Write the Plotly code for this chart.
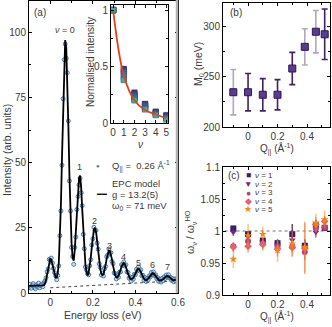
import plotly.graph_objects as go

# ---- panel (a): RIXS spectrum at Q = 0.26 1/A ----
energy = [
    -0.1, -0.095, -0.09, -0.085, -0.08, -0.075, -0.07, -0.065, -0.06, -0.055,
    -0.05, -0.045, -0.04, -0.035, -0.03, -0.025, -0.02, -0.015, -0.01, -0.005,
    0.0, 0.005, 0.01, 0.015, 0.02, 0.025, 0.03, 0.035, 0.04, 0.045,
    0.05, 0.055, 0.06, 0.065, 0.07, 0.075, 0.08, 0.085, 0.09, 0.095,
    0.1, 0.105, 0.11, 0.115, 0.12, 0.125, 0.13, 0.135, 0.14, 0.145,
    0.15, 0.155, 0.16, 0.165, 0.17, 0.175, 0.18, 0.185, 0.19, 0.195,
    0.2, 0.205, 0.21, 0.215, 0.22, 0.225, 0.23, 0.235, 0.24, 0.245,
    0.25, 0.255, 0.26, 0.265, 0.27, 0.275, 0.28, 0.285, 0.29, 0.295,
    0.3, 0.305, 0.31, 0.315, 0.32, 0.325, 0.33, 0.335, 0.34, 0.345,
    0.35, 0.355, 0.36, 0.365, 0.37, 0.375, 0.38, 0.385, 0.39, 0.395,
    0.4, 0.405, 0.41, 0.415, 0.42, 0.425, 0.43, 0.435, 0.44, 0.445,
    0.45, 0.455, 0.46, 0.465, 0.47, 0.475, 0.48, 0.485, 0.49, 0.495,
    0.5, 0.505, 0.51, 0.515, 0.52, 0.525, 0.53, 0.535, 0.54, 0.545,
    0.55, 0.555, 0.56, 0.565, 0.57, 0.575, 0.58, 0.585, 0.59, 0.595,
    0.6,
]
counts = [
    2.1, 3.4, 1.8, 2.9, 3.6, 2.2, 1.6, 3.1, 2.5, 3.8,
    2.0, 2.9, 3.3, 2.4, 3.9, 4.6, 5.8, 8.1, 9.2, 12.9,
    12.6, 13.4, 11.5, 9.4, 7.8, 6.6, 5.1, 6.7, 10.4, 22.0,
    31.5, 49.0, 74.5, 89.5, 95.5, 90.0, 84.5, 66.0, 43.0, 31.5,
    17.5, 14.0, 11.0, 17.5, 21.5, 32.0, 37.0, 41.5, 44.0, 38.5,
    33.5, 22.5, 17.0, 10.0, 8.9, 7.4, 7.0, 10.5, 12.8, 18.4,
    20.8, 25.2, 24.1, 24.0, 19.2, 16.8, 11.2, 9.8, 6.9, 7.6,
    6.5, 9.3, 10.2, 13.9, 14.6, 16.9, 15.4, 15.5, 12.1, 11.2,
    7.7, 7.4, 5.4, 6.6, 6.0, 8.0, 8.1, 10.9, 10.5, 11.9,
    10.4, 10.8, 8.1, 7.9, 5.7, 6.2, 4.6, 5.9, 5.3, 7.2,
    7.0, 9.1, 8.5, 10.0, 8.4, 8.9, 6.6, 6.8, 4.9, 5.9,
    4.4, 5.6, 5.0, 6.6, 6.2, 7.9, 7.0, 8.1, 6.7, 7.0,
    5.5, 5.9, 4.4, 5.2, 4.2, 5.6, 4.7, 6.2, 5.6, 6.9,
    6.1, 7.0, 5.7, 6.0, 4.8, 5.5, 4.3, 5.4, 4.6, 5.6,
    5.2,
]
epc_fit = [
    2.7, 2.7, 2.7, 2.7, 2.7, 2.7, 2.7, 2.7, 2.7, 2.7,
    2.7, 2.7, 2.8, 2.9, 3.0, 3.6, 5.0, 7.2, 9.8, 12.2,
    13.3, 12.6, 10.7, 8.6, 6.9, 5.9, 5.9, 7.5, 11.5, 20.5,
    34, 52, 71, 88, 97, 94, 82, 64, 45, 29.5,
    19, 13.5, 12.4, 16.4, 22.6, 30.5, 38.5, 44, 45, 40.5,
    32.2, 23.6, 16.1, 11.0, 8.1, 6.8, 7.7, 9.8, 13.4, 17.6,
    21.5, 24.3, 25.0, 23.4, 20.0, 15.9, 11.9, 9.1, 7.4, 6.9,
    7.2, 8.7, 10.9, 13.2, 15.2, 16.3, 16.1, 14.8, 12.8, 10.4,
    8.3, 6.8, 6.0, 6.0, 6.6, 7.4, 8.8, 10.2, 11.1, 11.5,
    11.1, 10.2, 8.8, 7.4, 6.3, 5.6, 5.2, 5.4, 5.8, 6.6,
    7.6, 8.5, 9.1, 9.3, 8.9, 8.2, 7.2, 6.2, 5.5, 5.05,
    4.9, 5.05, 5.55, 6.1, 6.75, 7.3, 7.55, 7.5, 7.2, 6.6,
    6.0, 5.4, 4.95, 4.75, 4.75, 5.0, 5.25, 5.7, 6.1, 6.4,
    6.5, 6.4, 6.1, 5.7, 5.25, 5.0, 4.9, 4.9, 5.0, 5.1,
    5.3,
]
bg_energy = [0.0, 0.6]
bg_level = [2.0, 4.7]

peak_labels = ["1", "2", "3", "4", "5", "6", "7"]
peak_label_x = [0.136, 0.207, 0.276, 0.343, 0.415, 0.482, 0.552]
peak_label_y = [48.5, 27.5, 18.0, 13.7, 11.7, 10.8, 10.1]

# inset: normalised harmonic intensities, one row per Q
nu_levels = [0, 1, 2, 3, 4, 5]
norm_int = [
    [1.0, 0.48, 0.27, 0.17, 0.10, 0.07],
    [1.0, 0.47, 0.26, 0.165, 0.10, 0.065],
    [1.0, 0.46, 0.25, 0.16, 0.095, 0.06],
    [1.0, 0.45, 0.24, 0.15, 0.09, 0.055],
    [1.0, 0.43, 0.23, 0.14, 0.085, 0.05],
    [1.0, 0.41, 0.22, 0.13, 0.08, 0.045],
    [1.0, 0.39, 0.21, 0.125, 0.075, 0.04],
    [1.0, 0.38, 0.20, 0.12, 0.07, 0.03],
]
norm_fit = [1.0, 0.42, 0.20, 0.115, 0.075, 0.045]
q_colors = ["#4a2f7f", "#44458a", "#3c5b92", "#33719a",
            "#2b85a0", "#2799a2", "#2aa9a0", "#36b59a"]

# ---- panel (b) ----
q_par = [-0.1, 0.0, 0.1, 0.2, 0.3, 0.385, 0.46, 0.52]
m0 = [234.5, 234.5, 232, 232, 258, 279.5, 294.5, 292]
m0_err = [22.5, 18.5, 16, 15, 16, 18, 21, 25]
m0_bar_colors = ["#b3a6c2", "#3f2266", "#3f2266", "#3f2266",
                 "#3f2266", "#b3a6c2", "#b3a6c2", "#3f2266"]

# ---- panel (c) ----
ratio = {
    1: [1.004, 0.995, 0.985, 0.981, 0.995, 0.977, 1.009, 1.005],
    2: [0.998, 0.991, 0.983, 0.978, 0.986, 0.975, 0.998, 1.004],
    3: [0.976, 0.984, 0.980, 0.975, 0.976, 0.967, 1.004, 1.006],
    4: [0.975, 0.976, 0.979, 0.972, 0.974, 0.973, 1.010, 1.015],
    5: [0.956, 0.993, 0.995, 0.970, 0.980, 0.975, 1.013, 1.018],
}
ratio_err = {
    1: [0.004, 0.005, 0.004, 0.006, 0.016, 0.010, 0.008, 0.004],
    2: [0.006, 0.008, 0.006, 0.008, 0.012, 0.010, 0.008, 0.004],
    3: [0.006, 0.010, 0.008, 0.010, 0.010, 0.012, 0.008, 0.006],
    4: [0.008, 0.010, 0.010, 0.012, 0.014, 0.040, 0.012, 0.008],
    5: [0.014, 0.018, 0.012, 0.018, 0.020, 0.040, 0.014, 0.014],
}
nu_symbols = {1: "square", 2: "triangle-down", 3: "circle", 4: "diamond", 5: "star"}
nu_colors = {1: "#3b1c6b", 2: "#6d2a86", 3: "#b2437f", 4: "#e3646a", 5: "#f7850f"}
nu_bar_colors = {1: "rgba(59,28,107,0.8)", 2: "rgba(109,42,134,0.7)",
                 3: "rgba(178,67,127,0.6)", 4: "rgba(227,100,106,0.55)",
                 5: "rgba(247,133,15,0.5)"}
nu_glyphs = {1: "■", 2: "▼", 3: "●", 4: "◆", 5: "★"}

W, H = 332, 327
FONT = "Liberation Sans, Arial, sans-serif"
TXT = "#3a3a3a"


def px(x, y):
    return x / W, 1 - y / H


fig = go.Figure()

# panel (a)
fig.add_trace(go.Scatter(x=bg_energy, y=bg_level, mode="lines",
                         line=dict(color="#444", dash="dot", width=1),
                         xaxis="x", yaxis="y"))
fig.add_trace(go.Scatter(x=energy, y=counts, mode="markers",
                         marker=dict(symbol="circle", size=4,
                                     color="rgba(150,190,222,0.5)",
                                     line=dict(color="#27669a", width=0.8)),
                         xaxis="x", yaxis="y"))
fig.add_trace(go.Scatter(x=energy, y=epc_fit, mode="lines",
                         line=dict(color="black", width=1.8),
                         xaxis="x", yaxis="y"))

# inset
for row, col in zip(norm_int, q_colors):
    fig.add_trace(go.Scatter(x=nu_levels, y=row, mode="markers",
                             marker=dict(symbol="square", size=5.5, color=col,
                                         line=dict(color="rgba(60,40,110,0.6)", width=0.6)),
                             xaxis="x2", yaxis="y2"))
fig.add_trace(go.Scatter(x=nu_levels, y=norm_fit, mode="lines",
                         line=dict(color="#e0421b", width=1.8, shape="spline"),
                         xaxis="x2", yaxis="y2"))

# panel (b)
for q, m, e, c in zip(q_par, m0, m0_err, m0_bar_colors):
    fig.add_trace(go.Scatter(x=[q], y=[m], mode="markers",
                             marker=dict(symbol="square", size=7, color="#5b3d8f",
                                         line=dict(color="#2e1650", width=1)),
                             error_y=dict(type="data", array=[e], color=c,
                                          thickness=1.6, width=3),
                             xaxis="x3", yaxis="y3"))

# panel (c)
fig.add_trace(go.Scatter(x=[-0.2, 0.6], y=[1, 1], mode="lines",
                         line=dict(color="#777", dash="dot", width=1.2),
                         xaxis="x4", yaxis="y4"))
for nu in [1, 2, 3, 4, 5]:
    fig.add_trace(go.Scatter(x=q_par, y=ratio[nu], mode="markers",
                             marker=dict(symbol=nu_symbols[nu], size=6,
                                         color=nu_colors[nu]),
                             error_y=dict(type="data", array=ratio_err[nu],
                                          color=nu_bar_colors[nu],
                                          thickness=1.5, width=0),
                             xaxis="x4", yaxis="y4"))

axis_common = dict(showline=True, linecolor="black", linewidth=1, mirror="allticks",
                   ticks="inside", ticklen=3, tickcolor="black", showgrid=False,
                   zeroline=False, automargin=False,
                   tickfont=dict(size=10, color=TXT, family=FONT))

fig.update_layout(
    width=W, height=H, margin=dict(l=0, r=0, t=0, b=0),
    paper_bgcolor="white", plot_bgcolor="white", showlegend=False,
    font=dict(family=FONT, size=10, color=TXT),
    xaxis=dict(axis_common, domain=[29 / W, 178 / W], range=[-0.1, 0.6],
               tick0=0, dtick=0.2, minor=dict(dtick=0.1, ticks="inside", ticklen=2)),
    yaxis=dict(axis_common, domain=[1 - 293 / H, 1 - 1 / H], range=[0, 112],
               tick0=0, dtick=25, minor=dict(dtick=12.5, ticks="inside", ticklen=2)),
    xaxis2=dict(axis_common, domain=[111 / W, 168 / W], range=[-0.2, 5.15],
                anchor="y2", dtick=1),
    yaxis2=dict(axis_common, domain=[1 - 123 / H, 1 - 5 / H], range=[0, 1.045],
                anchor="x2", tick0=0, dtick=0.5,
                minor=dict(dtick=0.25, ticks="inside", ticklen=2)),
    xaxis3=dict(axis_common, domain=[223 / W, 330 / W], range=[-0.17, 0.556],
                anchor="y3", tick0=0, dtick=0.2,
                minor=dict(dtick=0.1, ticks="inside", ticklen=2)),
    yaxis3=dict(axis_common, domain=[1 - 127 / H, 1 - 3 / H], range=[200, 323],
                anchor="x3", tick0=200, dtick=50,
                minor=dict(dtick=25, ticks="inside", ticklen=2)),
    xaxis4=dict(axis_common, domain=[223 / W, 330 / W], range=[-0.17, 0.556],
                anchor="y4", tick0=0, dtick=0.2,
                minor=dict(dtick=0.1, ticks="inside", ticklen=2)),
    yaxis4=dict(axis_common, domain=[1 - 295 / H, 1 - 167 / H], range=[0.9, 1.1],
                anchor="x4", tick0=0.9, dtick=0.05,
                minor=dict(dtick=0.025, ticks="inside", ticklen=2)),
    shapes=[dict(type="line", xref="paper", yref="paper",
                 x0=177 / W, x1=177 / W, y0=1 - 293 / H, y1=1,
                 line=dict(color="#b4b4b4", width=2.5))],
)

ann = []


def note(x, y, text, size=9.5, color=TXT, xanchor="left", xref="paper", yref="paper",
         angle=0):
    if xref == "paper":
        x, y = px(x, y)
    ann.append(dict(x=x, y=y, xref=xref, yref=yref, text=text, showarrow=False,
                    xanchor=xanchor, yanchor="middle", textangle=angle, borderpad=0,
                    font=dict(size=size, color=color, family=FONT)))


# axis titles
note(103, 315, "Energy loss (eV)", size=10.5, xanchor="center")
note(7, 150, "Intensity (arb. units)", size=10.5, xanchor="center", angle=-90)
note(140, 145, "<i>ν</i>", size=10, xanchor="center")
note(90, 62, "Normalised intensity", size=10, xanchor="center", angle=-90)
note(277, 149, "Q<sub>||</sub> (Å<sup>-1</sup>)", size=10, xanchor="center")
note(199, 64, "M<sub>0</sub> (meV)", size=10.5, xanchor="center", angle=-90)
note(277, 317, "Q<sub>||</sub> (Å<sup>-1</sup>)", size=10, xanchor="center")
note(191, 232, "ω<sub>ν</sub> / ω<sub>ν</sub><sup>HO</sup>", size=10.5,
     xanchor="center", angle=-90)

note(33, 12, "(a)", size=10)
note(0.07, 101, "<i>ν</i> = 0", size=9, xanchor="center", xref="x", yref="y")
for lab, lx, ly in zip(peak_labels, peak_label_x, peak_label_y):
    note(lx, ly, lab, size=9, xanchor="center", xref="x", yref="y")

# legend of panel (a)
note(98, 166, "●", size=6, color="#3c7fb0", xanchor="center")
note(111, 166, "Q<sub>||</sub> =  0.26 Å<sup>-1</sup>", size=9.5)
note(111, 183, "EPC model", size=9.5)
note(101, 194, "━━", size=8, color="black", xanchor="center")
note(111, 194, "g = 13.2(5)", size=9.5)
note(111, 206, "ω<sub>0</sub> = 71 meV", size=9.5)

note(229, 12, "(b)", size=10)
note(227, 176, "(c)", size=10)
legend_rows = [175, 184.3, 192.7, 201, 209.3]
for nu, yy in zip([1, 2, 3, 4, 5], legend_rows):
    note(248, yy, nu_glyphs[nu], size=8.5, color=nu_colors[nu], xanchor="center")
    note(254, yy, "<i>ν</i> = %d" % nu, size=8)

fig.update_layout(annotations=ann)

fig.write_html("out.html", config={"displayModeBar": False},
               post_script="document.body.style.margin = '0';")
